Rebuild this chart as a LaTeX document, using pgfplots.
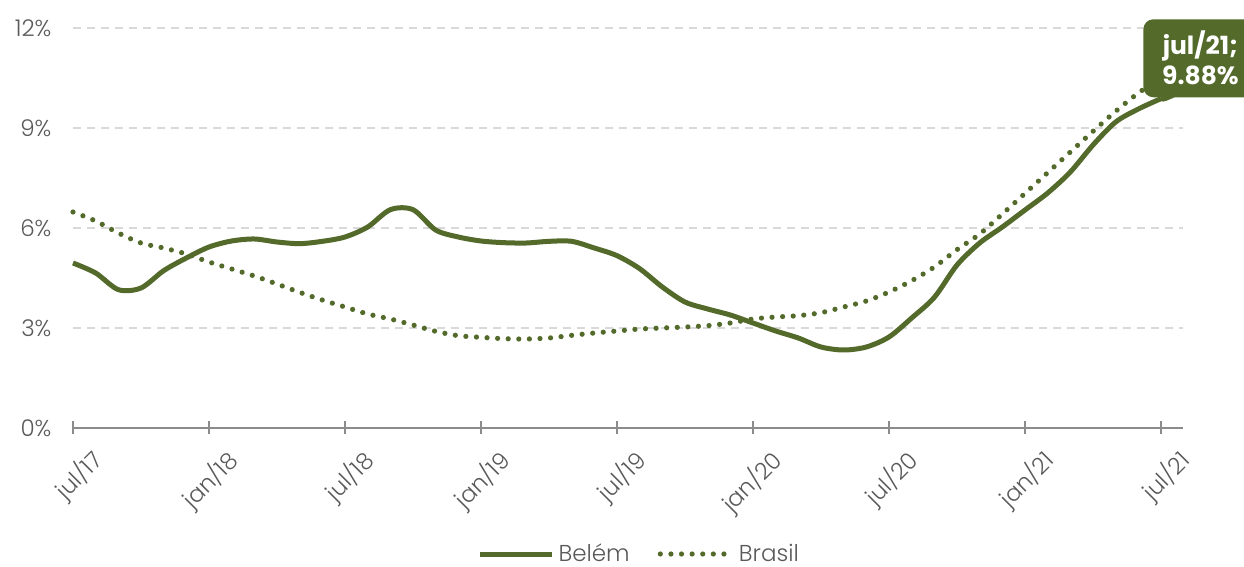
\documentclass[border=0pt]{standalone}
\usepackage{fontspec}
\setmainfont{Poppins Light}[BoldFont=Poppins Bold]
\usepackage{pgfplots}
\usepackage{pgfplotstable}
\pgfplotsset{compat=1.18}
\usetikzlibrary{shapes.callouts}

\definecolor{belem}{HTML}{536A2A}
\definecolor{txt}{HTML}{595959}
\definecolor{gridc}{HTML}{D9D9D9}
\definecolor{axisc}{HTML}{8C8C8C}

% monthly 12-month rates, jul/17 (0) .. jul/21 (48)
\pgfplotstableread{
x y
0 4.95
1 4.65
2 4.15
3 4.20
4 4.72
5 5.10
6 5.43
7 5.61
8 5.67
9 5.58
10 5.53
11 5.60
12 5.73
13 6.03
14 6.55
15 6.55
16 5.94
17 5.73
18 5.61
19 5.56
20 5.55
21 5.60
22 5.60
23 5.40
24 5.17
25 4.78
26 4.23
27 3.78
28 3.57
29 3.39
30 3.15
31 2.91
32 2.70
33 2.43
34 2.34
35 2.43
36 2.73
37 3.30
38 3.92
39 4.89
40 5.55
41 6.03
42 6.54
43 7.05
44 7.68
45 8.49
46 9.18
47 9.57
48 9.88
}\belemdata

\pgfplotstableread{
x y
0 6.48
1 6.21
2 5.85
3 5.55
4 5.40
5 5.22
6 4.98
7 4.77
8 4.56
9 4.32
10 4.07
11 3.84
12 3.63
13 3.42
14 3.27
15 3.09
16 2.90
17 2.77
18 2.72
19 2.68
20 2.67
21 2.70
22 2.78
23 2.85
24 2.91
25 2.97
26 3.00
27 3.03
28 3.07
29 3.15
30 3.27
31 3.33
32 3.37
33 3.46
34 3.63
35 3.81
36 4.08
37 4.42
38 4.83
39 5.35
40 5.82
41 6.42
42 7.04
43 7.66
44 8.28
45 8.90
46 9.50
47 10.05
48 10.50
}\brasildata

\begin{document}
\begin{tikzpicture}
\begin{axis}[
    width=555pt, height=200pt, scale only axis,
    xmin=0, xmax=48.97, ymin=0, ymax=12,
    clip=false,
    axis x line=bottom, axis y line=left, separate axis lines,
    x axis line style={-, draw=axisc, line width=0.75pt},
    y axis line style={draw=none},
    xtick={0,6,...,48},
    xticklabels={jul/17,jan/18,jul/18,jan/19,jul/19,jan/20,jul/20,jan/21,jul/21},
    ytick={0,3,6,9,12},
    yticklabels={0\%,3\%,6\%,9\%,12\%},
    ytick style={draw=none},
    xtick style={draw=axisc, line width=0.75pt},
    tick align=center, major tick length=6.5pt,
    ymajorgrids,
    y grid style={gridc, dash pattern=on 4pt off 3pt, line width=0.75pt},
    ticklabel style={font=\fontsize{11.5}{13}\selectfont, text=txt},
    yticklabel style={anchor=east, xshift=-4pt},
    xticklabel style={xshift=7.7pt, yshift=-1.2pt, rotate=45, anchor=north east},
    legend style={at={(0.511,-0.315)}, anchor=center, legend columns=2,
        draw=none, fill=none, font=\fontsize{11.5}{13}\selectfont, text=txt,
        /tikz/every even column/.append style={column sep=12pt}},
    legend image code/.code={\draw[#1] (0pt,0pt) -- (36pt,0pt);},
]
\addplot[belem, line width=2.5pt, smooth, tension=0.5] table {\belemdata};
\addlegendentry{Belém}
\addplot[belem, line width=2.6pt, line cap=round, dash pattern=on 0pt off 5.3pt, smooth, tension=0.5] table {\brasildata};
\addlegendentry{Brasil}

\node[rectangle callout, callout absolute pointer={([xshift=-2pt,yshift=-3pt]axis cs:48,9.88)},
      fill=belem, text=white, font=\bfseries\fontsize{12.5}{15}\selectfont,
      align=center, rounded corners=5pt, minimum width=57pt, minimum height=39pt,
      anchor=south west, inner sep=3pt]
      at ([xshift=-9pt, yshift=0.5pt]axis cs:48,9.88) {jul/21;\\9.88\%};
\end{axis}
\pgfresetboundingbox
\path[use as bounding box] (-36.5pt,-69.5pt) rectangle (585.5pt,214pt);
\end{tikzpicture}
\end{document}
